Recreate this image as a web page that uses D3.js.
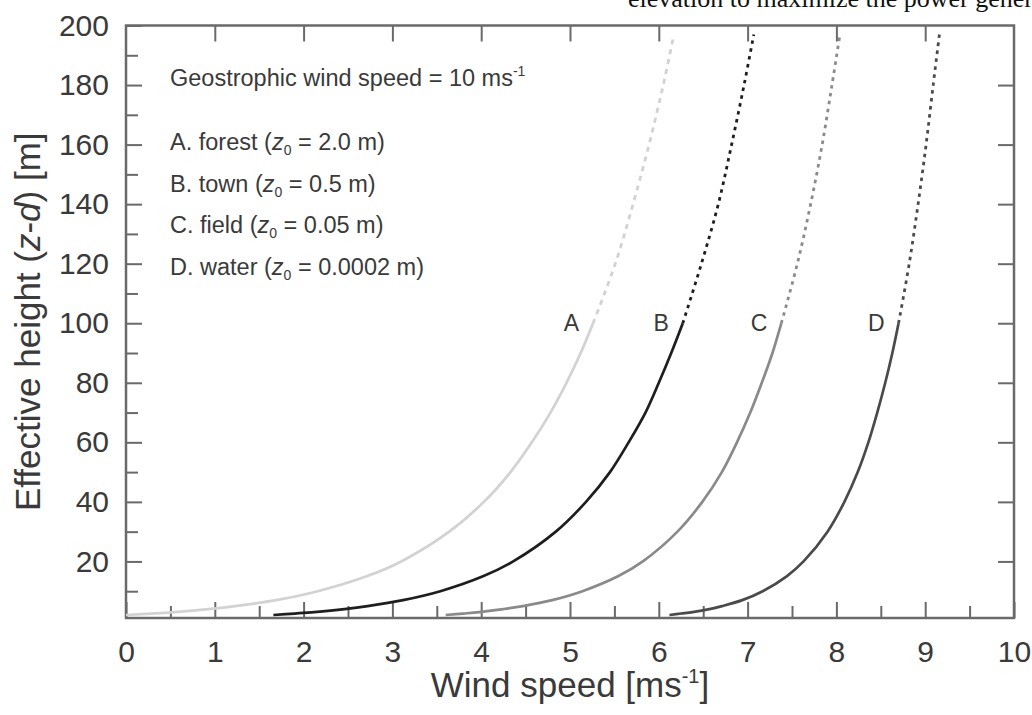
<!DOCTYPE html>
<html>
<head>
<meta charset="utf-8">
<script src="https://cdn.jsdelivr.net/npm/d3@7"></script>
<style>
  html, body { margin: 0; padding: 0; background: #fff; }
  svg { display: block; }
  text { font-family: "Liberation Sans", Arial, Helvetica, sans-serif; }
</style>
</head>
<body>
<svg id="chart" width="1032" height="715"></svg>
<script>
// ---- data ----
const categories = ["A", "B", "C", "D"];
const legendNames = ["forest", "town", "field", "water"];
const roughness = ["2.0", "0.5", "0.05", "0.0002"];

// heights of the solid (measured) part, m
const heightsLower = [2, 2.5, 3, 4, 5, 7, 10, 15, 20, 30, 40, 50, 60, 70, 80, 90, 100];
// heights of the dashed (extrapolated) part, m
const heightsUpper = [100, 120, 140, 160, 180, 197];

// wind speed (m/s) at heightsLower
const speedA = [0.00, 0.30, 0.55, 0.93, 1.23, 1.69, 2.16, 2.71, 3.10, 3.64, 4.03, 4.33, 4.57, 4.78, 4.96, 5.12, 5.26];
const speedB = [1.66, 1.90, 2.12, 2.46, 2.72, 3.12, 3.54, 4.02, 4.36, 4.84, 5.18, 5.45, 5.66, 5.85, 6.00, 6.14, 6.27];
const speedC = [3.60, 3.80, 3.98, 4.25, 4.47, 4.80, 5.14, 5.54, 5.82, 6.21, 6.49, 6.71, 6.88, 7.03, 7.16, 7.28, 7.38];
const speedD = [6.12, 6.25, 6.38, 6.57, 6.71, 6.94, 7.17, 7.44, 7.63, 7.90, 8.09, 8.24, 8.36, 8.46, 8.55, 8.63, 8.70];

// wind speed (m/s) at heightsUpper
const speedAUpper = [5.26, 5.51, 5.71, 5.89, 6.05, 6.17];
const speedBUpper = [6.27, 6.48, 6.67, 6.82, 6.96, 7.07];
const speedCUpper = [7.38, 7.56, 7.71, 7.84, 7.95, 8.04];
const speedDUpper = [8.70, 8.82, 8.92, 9.01, 9.09, 9.16];

const xMajorTicks = [0, 1, 2, 3, 4, 5, 6, 7, 8, 9, 10];
const xMinorTicks = [0.5, 1.5, 2.5, 3.5, 4.5, 5.5, 6.5, 7.5, 8.5, 9.5];
const yMajorTicks = [20, 40, 60, 80, 100, 120, 140, 160, 180, 200];
const yMinorTicks = [10, 30, 50, 70, 90, 110, 130, 150, 170, 190];

// ---- styling ----
const lineColors = ["#d2d2d2", "#1e1e1e", "#8a8a8a", "#4a4a4a"];
const dashPatterns = ["5,5", "3.5,4.5", "3.5,4.5", "3.5,4.5"];
const axisColor = "#6a6a6a";
const textColor = "#3a3a3a";

const svg = d3.select("#chart");
const mLeft = 126, mRight = 1014, mTop = 25.5, mBottom = 618;

const x = d3.scaleLinear().domain([0, 10]).range([mLeft, mRight]);
const y = d3.scaleLinear().domain([1, 200]).range([mBottom, mTop]);

// top-cropped page text (cut by the top edge, as in the reference)
svg.append("text")
  .attr("x", 628).attr("y", 6.5)
  .style("font-family", "'Liberation Serif', 'Times New Roman', serif")
  .attr("font-size", 26).attr("fill", "#111")
  .text("elevation to maximize the power generation");

// ---- axes ----
function styleAxis(g) {
  g.select(".domain").remove();
  g.selectAll(".tick line").attr("stroke", axisColor).attr("stroke-width", 2);
  g.selectAll(".tick text").attr("fill", textColor).attr("font-size", 30)
    .attr("font-family", "'Liberation Sans', Arial, Helvetica, sans-serif");
}

svg.append("g").attr("transform", `translate(0,${mBottom})`)
  .call(d3.axisBottom(x).tickValues(xMajorTicks).tickSize(-16).tickPadding(23).tickFormat(d3.format("d")))
  .call(styleAxis);
svg.append("g").attr("transform", `translate(0,${mBottom})`)
  .call(d3.axisBottom(x).tickValues(xMinorTicks).tickSize(-12).tickFormat(""))
  .call(styleAxis);
svg.append("g").attr("transform", `translate(0,${mTop})`)
  .call(d3.axisTop(x).tickValues(xMajorTicks.slice(1, -1)).tickSize(-16).tickFormat(""))
  .call(styleAxis);

svg.append("g").attr("transform", `translate(${mLeft},0)`)
  .call(d3.axisLeft(y).tickValues(yMajorTicks).tickSize(-16).tickPadding(17).tickFormat(d3.format("d")))
  .call(styleAxis);
svg.append("g").attr("transform", `translate(${mLeft},0)`)
  .call(d3.axisLeft(y).tickValues(yMinorTicks).tickSize(-12).tickFormat(""))
  .call(styleAxis);
svg.append("g").attr("transform", `translate(${mRight},0)`)
  .call(d3.axisRight(y).tickValues(yMajorTicks.slice(0, -1)).tickSize(-16).tickFormat(""))
  .call(styleAxis);

// frame
svg.append("rect")
  .attr("x", mLeft).attr("y", mTop)
  .attr("width", mRight - mLeft).attr("height", mBottom - mTop)
  .attr("fill", "none").attr("stroke", axisColor).attr("stroke-width", 2.5);

// ---- curves ----
const lowerSets = [speedA, speedB, speedC, speedD];
const upperSets = [speedAUpper, speedBUpper, speedCUpper, speedDUpper];

const line = d3.line()
  .x(d => x(d.u))
  .y(d => y(d.z))
  .curve(d3.curveCatmullRom.alpha(0.5));

categories.forEach((c, i) => {
  const lower = heightsLower.map((z, k) => ({ z, u: lowerSets[i][k] }));
  const upper = heightsUpper.map((z, k) => ({ z, u: upperSets[i][k] }));
  svg.append("path")
    .attr("d", line(upper))
    .attr("fill", "none")
    .attr("stroke", lineColors[i])
    .attr("stroke-width", 2.8)
    .attr("stroke-dasharray", dashPatterns[i]);
  svg.append("path")
    .attr("d", line(lower))
    .attr("fill", "none")
    .attr("stroke", lineColors[i])
    .attr("stroke-width", 2.7);
  // curve label next to the 100 m end
  const end = lower[lower.length - 1];
  svg.append("text")
    .attr("x", x(end.u) - 14)
    .attr("y", y(end.z) + 8)
    .attr("text-anchor", "end")
    .attr("font-size", 23)
    .attr("fill", textColor)
    .text(c);
});

// ---- annotation text ----
const geo = svg.append("text")
  .attr("x", 170).attr("y", 86)
  .attr("font-size", 23.5).attr("fill", textColor);
geo.append("tspan").text("Geostrophic wind speed = 10 ms");
geo.append("tspan").attr("font-size", 14).attr("dy", -10).text("-1");

const legendBaselines = [150, 192, 233, 275];
categories.forEach((c, i) => {
  const t = svg.append("text")
    .attr("x", 170).attr("y", legendBaselines[i])
    .attr("font-size", 23.5).attr("fill", textColor);
  t.append("tspan").text(`${c}. ${legendNames[i]} (`);
  t.append("tspan").attr("font-style", "italic").text("z");
  t.append("tspan").attr("font-size", 14).attr("dy", 5).text("0");
  t.append("tspan").attr("dy", -5).text(` = ${roughness[i]} m)`);
});

// ---- axis titles ----
const xt = svg.append("text")
  .attr("x", (mLeft + mRight) / 2).attr("y", 697)
  .attr("text-anchor", "middle")
  .attr("font-size", 35).attr("fill", textColor);
xt.append("tspan").text("Wind speed [ms");
xt.append("tspan").attr("font-size", 20).attr("dy", -14).text("-1");
xt.append("tspan").attr("dy", 14).text("]");

const yt = svg.append("text")
  .attr("transform", `translate(40,${(mTop + mBottom) / 2}) rotate(-90)`)
  .attr("text-anchor", "middle")
  .attr("font-size", 35).attr("fill", textColor);
yt.append("tspan").text("Effective height (");
yt.append("tspan").attr("font-style", "italic").text("z");
yt.append("tspan").text("-");
yt.append("tspan").attr("font-style", "italic").text("d");
yt.append("tspan").text(") [m]");
</script>
</body>
</html>
